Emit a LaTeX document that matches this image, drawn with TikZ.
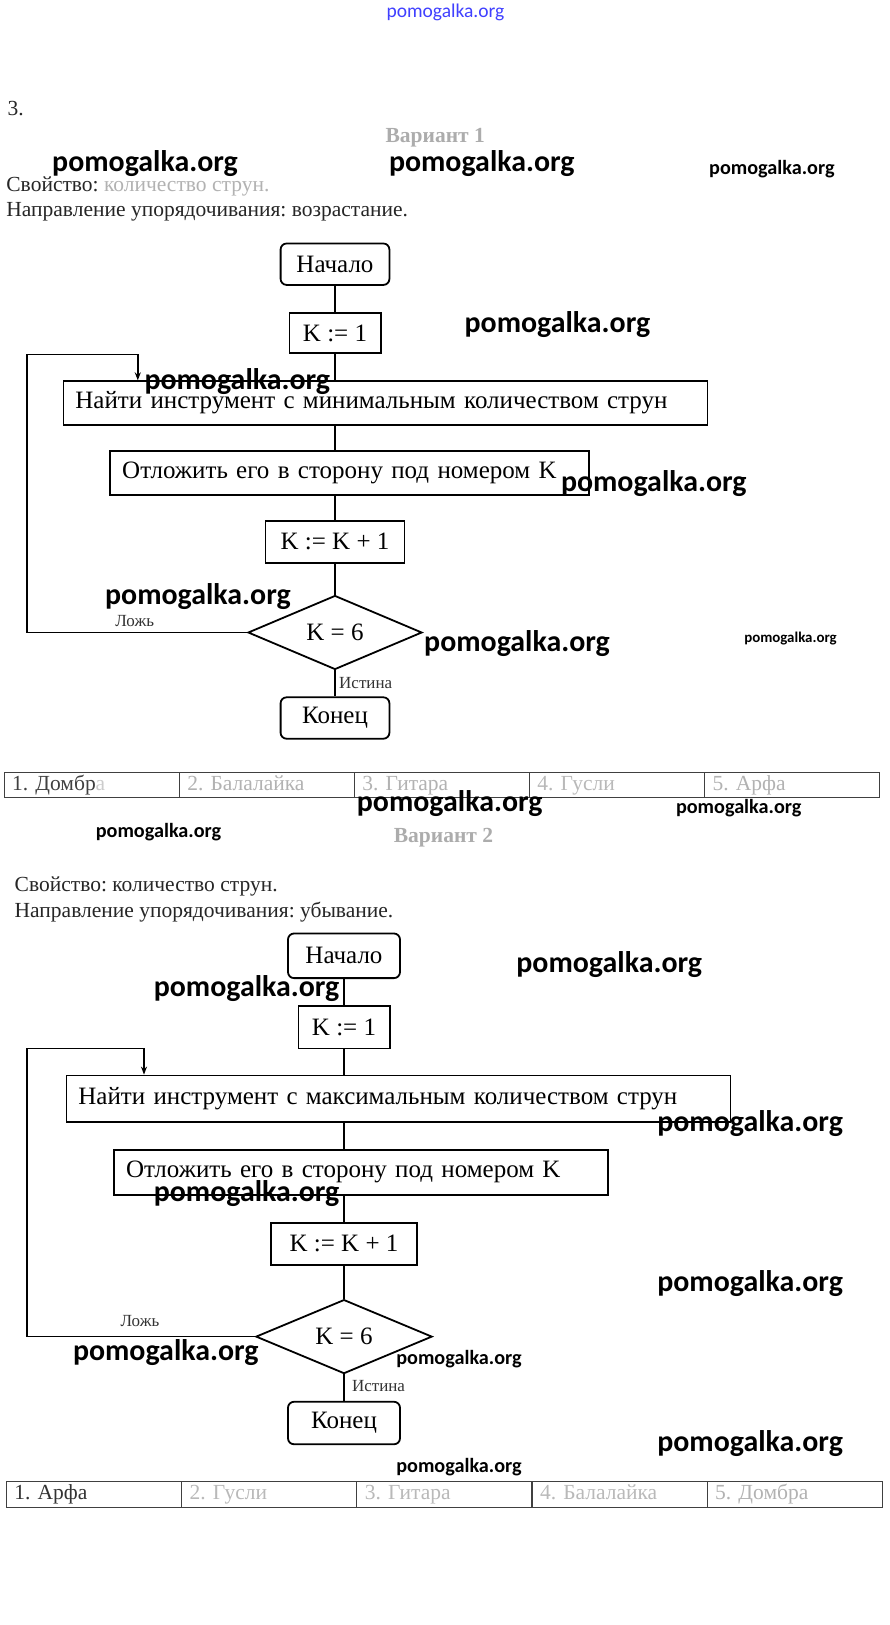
\documentclass[tikz,border=0pt]{standalone}
\usepackage{fontspec}
\setmainfont{Liberation Serif}
\newfontfamily\wmfont{Carlito}
\frenchspacing
\usetikzlibrary{shapes.geometric,arrows.meta}
\tikzset{
  base/.style={draw, line width=1.8pt, inner sep=0pt, font=\fontsize{25}{30}\selectfont},
  term/.style={base, rounded corners=6pt},
  proc/.style={base},
  wide/.style={base, align=left, inner xsep=12pt},
  dec/.style={base, diamond},
  conn/.style={line width=1.6pt},
  loopar/.style={conn, -{Stealth[length=8pt,width=6pt]}},
  lbl/.style={inner sep=0pt, text=black!80, font=\fontsize{17}{20}\selectfont},
  txt/.style={inner sep=0pt, anchor=west, text=black!85, font=\fontsize{21.5}{25}\selectfont},
  head/.style={inner sep=0pt, text=gray!65, font=\bfseries\fontsize{21.5}{25}\selectfont},
  cell/.style={draw=black!75, line width=0.9pt, minimum height=25.9pt, inner ysep=0pt, inner xsep=8pt,
    text width=159pt, text height=15pt, text depth=4.5pt, align=left, font=\fontsize{21.5}{25}\selectfont},
  wmL/.style={inner sep=0pt, font=\wmfont\bfseries\fontsize{29.9}{34}\selectfont},
  wmS/.style={inner sep=0pt, font=\wmfont\bfseries\fontsize{20.2}{24}\selectfont},
  wmT/.style={inner sep=0pt, font=\wmfont\bfseries\fontsize{14.9}{18}\selectfont},
}
\begin{document}
\begin{tikzpicture}[x=1pt, y=-1pt]
\useasboundingbox (0,0) rectangle (889,1625);
\fill[white] (0,0) rectangle (889,1625);

% ---------- Variant 1 ----------
\node[txt] (num) at (7.3,108.5) {3.};
\node[head] (v1h) at (435.2,137.5) {Вариант 1};
\node[txt] (v1p) at (6.2,186.5) {Свойство: \textcolor{gray!60}{количество струн.}};
\node[txt] (v1d) at (6.2,211.3) {Направление упорядочивания: возрастание.};

\node[term, minimum width=108.8pt, minimum height=41.4pt] (s1) at (335,264.2) {Начало};
\node[proc, minimum width=91.2pt, minimum height=40.4pt] (k1) at (335,333.1) {K := 1};
\node[wide, text width=620pt, minimum height=43.5pt] (f1) at (385.4,403) {Найти инструмент с минимальным количеством струн};
\node[wide, text width=455pt, minimum height=44.6pt] (o1) at (349.7,473) {Отложить его в сторону под номером K};
\node[proc, minimum width=138.9pt, minimum height=41.4pt] (i1) at (335,541.9) {K := K + 1};
\node[dec, minimum width=174pt, minimum height=69.5pt] (d1) at (335,632.5) {K = 6};
\node[term, minimum width=108.8pt, minimum height=41.4pt] (e1) at (335,718) {Конец};

\coordinate (L1) at (26.9,354.3);
\coordinate (A1) at (137.8,354.3);

\draw[conn] (s1) -- (k1);
\draw[conn] (k1) -- (k1 |- f1.north);
\draw[conn] (k1 |- f1.south) -- (k1 |- o1.north);
\draw[conn] (k1 |- o1.south) -- (i1);
\draw[conn] (i1) -- (d1);
\draw[conn] (d1) -- (e1);
\draw[loopar] (d1.west) -| (L1) -- (A1) -- (A1 |- f1.north);

\node[lbl] (n1) at (134.7,620.6) {Ложь};
\node[lbl] (y1) at (365.7,682.8) {Истина};

\node[cell] (a1) at (91.65,784.9) {\textcolor{black!75}{1. Домбр}\textcolor{gray!40}{а}};
\node[cell] (a2) at (266.75,784.9) {\textcolor{gray!60}{2. Балалайка}};
\node[cell] (a3) at (441.85,784.9) {\textcolor{gray!60}{3. Гитара}};
\node[cell] (a4) at (616.95,784.9) {\textcolor{gray!55}{4. Гусли}};
\node[cell] (a5) at (792.05,784.9) {\textcolor{gray!60}{5. Арфа}};

% ---------- Variant 2 ----------
\node[head] (v2h) at (443.5,838) {Вариант 2};
\node[txt] (v2p) at (14.5,886.9) {Свойство: количество струн.};
\node[txt] (v2d) at (14.5,911.7) {Направление упорядочивания: убывание.};

\node[term, minimum width=112pt, minimum height=44.6pt] (s2) at (344,955.8) {Начало};
\node[proc, minimum width=91.2pt, minimum height=42.5pt] (k2) at (344,1027.3) {K := 1};
\node[wide, text width=640pt, minimum height=46.6pt] (f2) at (398.4,1098.8) {Найти инструмент с максимальным количеством струн};
\node[wide, text width=470pt, minimum height=44.6pt] (o2) at (361.1,1172.4) {Отложить его в сторону под номером K};
\node[proc, minimum width=146.1pt, minimum height=42.5pt] (i2) at (344,1243.9) {K := K + 1};
\node[dec, minimum width=176.2pt, minimum height=72.5pt] (d2) at (344,1336.6) {K = 6};
\node[term, minimum width=112pt, minimum height=42.5pt] (e2) at (344,1423) {Конец};

\coordinate (L2) at (26.9,1048.5);
\coordinate (A2) at (144,1048.5);

\draw[conn] (s2) -- (k2);
\draw[conn] (k2) -- (k2 |- f2.north);
\draw[conn] (k2 |- f2.south) -- (k2 |- o2.north);
\draw[conn] (k2 |- o2.south) -- (i2);
\draw[conn] (i2) -- (d2);
\draw[conn] (d2) -- (e2);
\draw[loopar] (d2.west) -| (L2) -- (A2) -- (A2 |- f2.north);

\node[lbl] (n2) at (139.9,1320.5) {Ложь};
\node[lbl] (y2) at (378.5,1386) {Истина};

\node[cell] (b1) at (93.9,1494.6) {\textcolor{black!80}{1. Арфа}};
\node[cell] (b2) at (269.1,1494.6) {\textcolor{gray!55}{2. Гусли}};
\node[cell] (b3) at (444.3,1494.6) {\textcolor{gray!55}{3. Гитара}};
\node[cell] (b4) at (619.5,1494.6) {\textcolor{gray!55}{4. Балалайка}};
\node[cell] (b5) at (794.7,1494.6) {\textcolor{gray!60}{5. Домбра}};

% ---------- watermarks ----------
\node[inner sep=0pt, text=blue!75, font=\wmfont\fontsize{19.5}{22}\selectfont] (w0) at (445.5,12.4) {pomogalka.org};
\node[wmL] (w1) at (145,163.7) {pomogalka.org};
\node[wmL] (w2) at (481.8,163.7) {pomogalka.org};
\node[wmS] (w3) at (771.9,168.9) {pomogalka.org};
\node[wmL] (w4) at (557.4,324.3) {pomogalka.org};
\node[wmL] (w5) at (237.3,381.3) {pomogalka.org};
\node[wmL] (w6) at (653.8,483.9) {pomogalka.org};
\node[wmL] (w7) at (197.9,596.8) {pomogalka.org};
\node[wmL] (w8) at (517,643.4) {pomogalka.org};
\node[wmT] (w9) at (790.5,638.2) {pomogalka.org};
\node[wmL] (w10) at (449.7,804) {pomogalka.org};
\node[wmS] (w11) at (738.7,808.2) {pomogalka.org};
\node[wmS] (w12) at (158.5,832) {pomogalka.org};
\node[wmL] (w13) at (609.2,964.6) {pomogalka.org};
\node[wmL] (w14) at (246.6,988.4) {pomogalka.org};
\node[wmL] (w15) at (750.1,1123.1) {pomogalka.org};
\node[wmL] (w16) at (246.6,1193.6) {pomogalka.org};
\node[wmL] (w17) at (750.1,1283.7) {pomogalka.org};
\node[wmL] (w18) at (165.8,1352.1) {pomogalka.org};
\node[wmS] (w19) at (459,1359.4) {pomogalka.org};
\node[wmL] (w20) at (750.1,1443.3) {pomogalka.org};
\node[wmS] (w21) at (459,1467.1) {pomogalka.org};
\end{tikzpicture}
\end{document}
